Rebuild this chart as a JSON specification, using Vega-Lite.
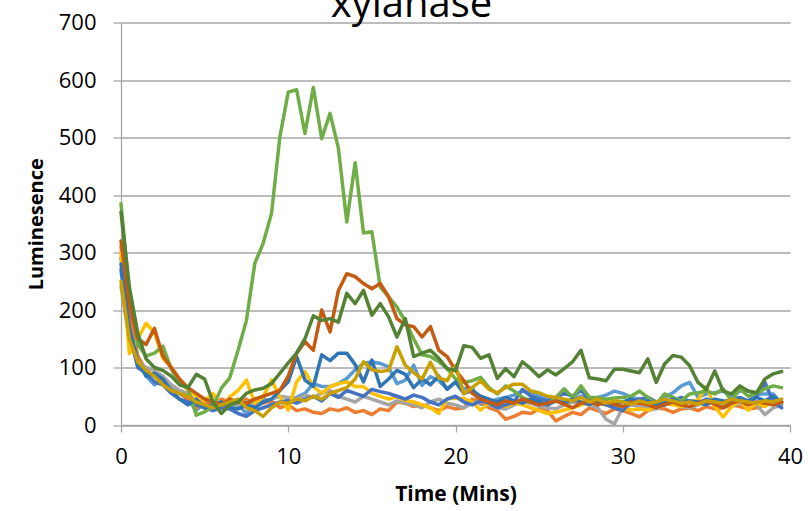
{
  "$schema": "https://vega.github.io/schema/vega-lite/v6.json",
  "width": 669,
  "height": 402.5,
  "autosize": {"type": "none"},
  "padding": {"left": 121, "top": 22.5, "right": 18, "bottom": 86},
  "background": "white",
  "title": {"text": "xylanase", "font": "Open Sans", "fontSize": 40, "fontWeight": "normal", "color": "#000000", "anchor": "middle", "frame": "group", "dx": -44, "offset": -45, "baseline": "alphabetic"},
  "data": {"values": [
    {"t":0,"A":385,"B":320,"C":370,"D":280,"E":250,"F":300,"G":290,"H":270,"I":240,"J":310},
    {"t":0.5,"A":230,"B":210,"C":240,"D":170,"E":150,"F":124,"G":180,"H":160,"I":150,"J":190},
    {"t":1,"A":140,"B":150,"C":160,"D":110,"E":110,"F":150,"G":120,"H":100,"I":110,"J":120},
    {"t":1.5,"A":120,"B":140,"C":115,"D":85,"E":95,"F":177,"G":85,"H":90,"I":100,"J":95},
    {"t":2,"A":125,"B":168,"C":100,"D":90,"E":85,"F":160,"G":70,"H":75,"I":95,"J":85},
    {"t":2.5,"A":137,"B":120,"C":95,"D":80,"E":70,"F":116,"G":80,"H":70,"I":85,"J":75},
    {"t":3,"A":98,"B":100,"C":85,"D":60,"E":60,"F":101,"G":65,"H":55,"I":70,"J":60},
    {"t":3.5,"A":72,"B":80,"C":70,"D":45,"E":55,"F":78,"G":55,"H":45,"I":60,"J":55},
    {"t":4,"A":64,"B":65,"C":65,"D":35,"E":50,"F":61,"G":45,"H":40,"I":55,"J":45},
    {"t":4.5,"A":17,"B":55,"C":88,"D":45,"E":40,"F":50,"G":25,"H":35,"I":40,"J":30},
    {"t":5,"A":23,"B":45,"C":80,"D":30,"E":35,"F":42,"G":40,"H":30,"I":45,"J":40},
    {"t":5.5,"A":32,"B":40,"C":40,"D":35,"E":30,"F":55,"G":35,"H":25,"I":40,"J":35},
    {"t":6,"A":64,"B":35,"C":20,"D":40,"E":35,"F":30,"G":43,"H":30,"I":35,"J":45},
    {"t":6.5,"A":82,"B":45,"C":35,"D":30,"E":40,"F":49,"G":32,"H":28,"I":30,"J":40},
    {"t":7,"A":130,"B":40,"C":40,"D":28,"E":45,"F":60,"G":35,"H":20,"I":35,"J":38},
    {"t":7.5,"A":182,"B":38,"C":55,"D":35,"E":30,"F":78,"G":20,"H":15,"I":40,"J":45},
    {"t":8,"A":281,"B":45,"C":61,"D":30,"E":25,"F":38,"G":40,"H":25,"I":38,"J":35},
    {"t":8.5,"A":316,"B":50,"C":64,"D":40,"E":15,"F":49,"G":46,"H":30,"I":42,"J":38},
    {"t":9,"A":368,"B":55,"C":72,"D":45,"E":30,"F":78,"G":38,"H":35,"I":45,"J":42},
    {"t":9.5,"A":501,"B":60,"C":90,"D":60,"E":40,"F":49,"G":38,"H":40,"I":50,"J":30},
    {"t":10,"A":579,"B":85,"C":108,"D":75,"E":38,"F":26,"G":43,"H":42,"I":48,"J":35},
    {"t":10.5,"A":583,"B":125,"C":125,"D":119,"E":45,"F":75,"G":48,"H":38,"I":45,"J":25},
    {"t":11,"A":507,"B":145,"C":150,"D":78,"E":42,"F":93,"G":55,"H":45,"I":52,"J":28},
    {"t":11.5,"A":587,"B":130,"C":190,"D":67,"E":50,"F":67,"G":72,"H":50,"I":48,"J":22},
    {"t":12,"A":498,"B":200,"C":182,"D":122,"E":45,"F":55,"G":67,"H":42,"I":55,"J":20},
    {"t":12.5,"A":542,"B":162,"C":185,"D":112,"E":55,"F":67,"G":67,"H":55,"I":60,"J":28},
    {"t":13,"A":481,"B":234,"C":179,"D":125,"E":60,"F":72,"G":72,"H":48,"I":50,"J":25},
    {"t":13.5,"A":353,"B":263,"C":229,"D":125,"E":65,"F":75,"G":81,"H":60,"I":45,"J":30},
    {"t":14,"A":456,"B":258,"C":211,"D":105,"E":80,"F":67,"G":96,"H":55,"I":40,"J":22},
    {"t":14.5,"A":334,"B":246,"C":234,"D":75,"E":110,"F":67,"G":107,"H":50,"I":50,"J":25},
    {"t":15,"A":336,"B":237,"C":191,"D":113,"E":96,"F":55,"G":110,"H":62,"I":45,"J":18},
    {"t":15.5,"A":240,"B":246,"C":211,"D":67,"E":93,"F":50,"G":107,"H":58,"I":40,"J":28},
    {"t":16,"A":223,"B":223,"C":188,"D":80,"E":95,"F":45,"G":101,"H":55,"I":35,"J":25},
    {"t":16.5,"A":205,"B":185,"C":153,"D":95,"E":136,"F":49,"G":72,"H":50,"I":42,"J":40},
    {"t":17,"A":180,"B":174,"C":185,"D":88,"E":104,"F":43,"G":78,"H":45,"I":38,"J":38},
    {"t":17.5,"A":150,"B":171,"C":119,"D":65,"E":91,"F":40,"G":104,"H":52,"I":35,"J":32},
    {"t":18,"A":122,"B":153,"C":125,"D":80,"E":80,"F":35,"G":69,"H":48,"I":30,"J":35},
    {"t":18.5,"A":119,"B":171,"C":130,"D":70,"E":109,"F":30,"G":84,"H":40,"I":40,"J":30},
    {"t":19,"A":110,"B":130,"C":116,"D":85,"E":82,"F":20,"G":77,"H":35,"I":45,"J":25},
    {"t":19.5,"A":98,"B":119,"C":98,"D":62,"E":77,"F":46,"G":63,"H":45,"I":38,"J":32},
    {"t":20,"A":80,"B":95,"C":95,"D":75,"E":103,"F":46,"G":74,"H":50,"I":35,"J":28},
    {"t":20.5,"A":74,"B":77,"C":138,"D":55,"E":54,"F":46,"G":63,"H":40,"I":30,"J":30},
    {"t":21,"A":77,"B":55,"C":135,"D":60,"E":65,"F":40,"G":65,"H":35,"I":38,"J":45},
    {"t":21.5,"A":83,"B":45,"C":116,"D":50,"E":77,"F":26,"G":36,"H":42,"I":42,"J":40},
    {"t":22,"A":65,"B":40,"C":122,"D":45,"E":62,"F":38,"G":39,"H":38,"I":35,"J":30},
    {"t":22.5,"A":54,"B":35,"C":81,"D":40,"E":56,"F":35,"G":45,"H":30,"I":30,"J":25},
    {"t":23,"A":68,"B":42,"C":98,"D":48,"E":65,"F":32,"G":48,"H":35,"I":28,"J":10},
    {"t":23.5,"A":59,"B":38,"C":84,"D":42,"E":71,"F":38,"G":52,"H":40,"I":35,"J":15},
    {"t":24,"A":48,"B":45,"C":110,"D":38,"E":71,"F":35,"G":59,"H":62,"I":40,"J":22},
    {"t":24.5,"A":42,"B":40,"C":98,"D":45,"E":59,"F":30,"G":55,"H":50,"I":38,"J":20},
    {"t":25,"A":40,"B":35,"C":84,"D":40,"E":56,"F":25,"G":50,"H":45,"I":32,"J":28},
    {"t":25.5,"A":36,"B":38,"C":96,"D":35,"E":50,"F":20,"G":45,"H":42,"I":30,"J":25},
    {"t":26,"A":48,"B":42,"C":87,"D":42,"E":48,"F":22,"G":42,"H":48,"I":28,"J":7},
    {"t":26.5,"A":63,"B":36,"C":98,"D":38,"E":45,"F":26,"G":40,"H":55,"I":35,"J":15},
    {"t":27,"A":48,"B":30,"C":110,"D":45,"E":42,"F":30,"G":45,"H":50,"I":40,"J":22},
    {"t":27.5,"A":68,"B":38,"C":130,"D":40,"E":48,"F":35,"G":50,"H":60,"I":38,"J":18},
    {"t":28,"A":48,"B":42,"C":82,"D":36,"E":40,"F":40,"G":45,"H":45,"I":35,"J":30},
    {"t":28.5,"A":48,"B":35,"C":80,"D":42,"E":45,"F":38,"G":48,"H":40,"I":30,"J":25},
    {"t":29,"A":45,"B":40,"C":77,"D":38,"E":38,"F":35,"G":52,"H":35,"I":10,"J":20},
    {"t":29.5,"A":47,"B":36,"C":97,"D":35,"E":42,"F":32,"G":59,"H":30,"I":2,"J":28},
    {"t":30,"A":48,"B":32,"C":97,"D":40,"E":40,"F":30,"G":55,"H":25,"I":30,"J":25},
    {"t":30.5,"A":50,"B":40,"C":94,"D":45,"E":36,"F":26,"G":48,"H":40,"I":35,"J":20},
    {"t":31,"A":59,"B":38,"C":91,"D":38,"E":42,"F":28,"G":45,"H":45,"I":32,"J":14},
    {"t":31.5,"A":48,"B":35,"C":115,"D":42,"E":38,"F":26,"G":42,"H":48,"I":30,"J":25},
    {"t":32,"A":36,"B":30,"C":74,"D":36,"E":40,"F":32,"G":39,"H":40,"I":28,"J":30},
    {"t":32.5,"A":54,"B":36,"C":106,"D":40,"E":45,"F":38,"G":48,"H":35,"I":35,"J":28},
    {"t":33,"A":48,"B":40,"C":121,"D":45,"E":42,"F":35,"G":56,"H":42,"I":38,"J":22},
    {"t":33.5,"A":42,"B":35,"C":118,"D":38,"E":38,"F":32,"G":68,"H":48,"I":32,"J":28},
    {"t":34,"A":54,"B":32,"C":103,"D":42,"E":40,"F":40,"G":74,"H":40,"I":30,"J":30},
    {"t":34.5,"A":56,"B":38,"C":74,"D":40,"E":36,"F":43,"G":48,"H":38,"I":35,"J":25},
    {"t":35,"A":59,"B":42,"C":62,"D":35,"E":42,"F":67,"G":54,"H":45,"I":38,"J":32},
    {"t":35.5,"A":54,"B":36,"C":94,"D":45,"E":40,"F":32,"G":56,"H":42,"I":40,"J":28},
    {"t":36,"A":63,"B":30,"C":59,"D":42,"E":38,"F":14,"G":59,"H":40,"I":35,"J":30},
    {"t":36.5,"A":42,"B":38,"C":54,"D":38,"E":45,"F":32,"G":50,"H":45,"I":32,"J":35},
    {"t":37,"A":63,"B":42,"C":68,"D":45,"E":42,"F":43,"G":59,"H":48,"I":38,"J":32},
    {"t":37.5,"A":50,"B":35,"C":59,"D":40,"E":40,"F":26,"G":59,"H":42,"I":40,"J":28},
    {"t":38,"A":55,"B":40,"C":56,"D":48,"E":38,"F":38,"G":54,"H":50,"I":35,"J":30},
    {"t":38.5,"A":63,"B":38,"C":80,"D":42,"E":42,"F":32,"G":54,"H":74,"I":18,"J":35},
    {"t":39,"A":68,"B":35,"C":89,"D":50,"E":40,"F":43,"G":54,"H":40,"I":30,"J":38},
    {"t":39.5,"A":65,"B":40,"C":93,"D":40,"E":45,"F":40,"G":36,"H":30,"I":35,"J":40}
  ]},
  "transform": [{"fold": ["G","J","I","F","H","A","D","B","E","C"], "as": ["series","value"]}],
  "mark": {"type": "line", "strokeWidth": 3.5, "strokeJoin": "round", "strokeCap": "round"},
  "encoding": {
    "x": {"field": "t", "type": "quantitative",
      "scale": {"domain": [0,40], "nice": false, "zero": false},
      "axis": {"values": [0,10,20,30,40], "grid": false, "domain": true, "domainColor": "#A6A6A6", "domainWidth": 1.3,
        "ticks": true, "tickSize": 7, "tickColor": "#A6A6A6", "tickWidth": 1.3,
        "labelFont": "Open Sans", "labelFontSize": 22, "labelColor": "#000000", "labelPadding": 14,
        "labelFlush": false, "labelOverlap": false,
        "title": "Time (Mins)", "titleFont": "Open Sans", "titleFontSize": 21, "titleFontWeight": "bold", "titleColor": "#000000",
        "titleY": 75, "titleBaseline": "alphabetic"}},
    "y": {"field": "value", "type": "quantitative",
      "scale": {"domain": [0,700], "nice": false},
      "axis": {"values": [0,100,200,300,400,500,600,700], "grid": true, "gridColor": "#A6A6A6", "gridWidth": 1.3,
        "domain": true, "domainColor": "#A6A6A6", "domainWidth": 1.3,
        "ticks": true, "tickSize": 8, "tickColor": "#A6A6A6", "tickWidth": 1.3,
        "labelFont": "Open Sans", "labelFontSize": 22, "labelColor": "#000000", "labelPadding": 17,
        "labelFlush": false, "labelOverlap": false,
        "title": "Luminesence", "titleFont": "Open Sans", "titleFontSize": 20, "titleFontWeight": "bold", "titleColor": "#000000",
        "titleX": -85, "titleY": 201.25, "titleAngle": -90, "titleAlign": "center", "titleBaseline": "middle"}},
    "color": {"field": "series", "type": "nominal",
      "scale": {"domain": ["G","J","I","F","H","A","D","B","E","C"],
        "range": ["#5B9BD5","#ED7D31","#A5A5A5","#FFC000","#4472C4","#70AD47","#2E75B6","#C55A11","#C9A000","#548235"]},
      "legend": null}
  },
  "config": {"view": {"stroke": null}}
}
